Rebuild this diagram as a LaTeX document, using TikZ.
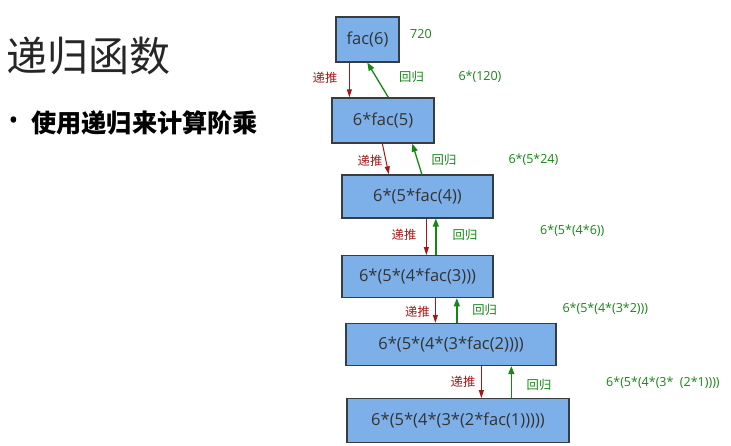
\documentclass[tikz,border=0pt]{standalone}
\usepackage{fontspec}
\setmainfont{Open Sans}
\newfontfamily\cjk{Noto Sans CJK SC}
\usetikzlibrary{arrows.meta,calc}
\definecolor{boxblue}{RGB}{125,176,232}
\definecolor{boxline}{RGB}{55,60,65}
\definecolor{dred}{RGB}{160,25,25}
\definecolor{dgreen}{RGB}{20,135,20}
\begin{document}
\begin{tikzpicture}[x=1pt,y=-1pt,
 box/.style={draw=boxline,line width=1.3pt,fill=boxblue,inner sep=0pt,font=\fontsize{16.5}{19}\selectfont,text=black!80},
 downarr/.style={draw=dred,line width=1pt,-{Triangle[length=8pt,width=5pt]}},
 uparr/.style={draw=dgreen,line width=1.3pt,-{Triangle[length=8pt,width=6pt]}},
 tuilab/.style={text=dred,font=\cjk\fontsize{12.3}{14}\selectfont,inner sep=0pt},
 huilab/.style={text=dgreen,font=\cjk\fontsize{12.3}{14}\selectfont,inner sep=0pt},
 vallab/.style={text=dgreen,font=\fontsize{12.5}{14}\selectfont,inner sep=0pt,anchor=west}]
\useasboundingbox[fill=white] (0,0) rectangle (731,446);

% title and bullet
\node[anchor=west,inner sep=0pt,text=black!85,font=\cjk\fontsize{41}{46}\selectfont] (title) at (6,56) {递归函数};
\node[anchor=center,inner sep=0pt,font=\fontsize{26}{28}\selectfont] (bul) at (13.5,123) {•};
\node[anchor=west,inner sep=0pt,font=\cjk\bfseries\fontsize{25.2}{29}\selectfont] (btext) at (31,123) {使用递归来计算阶乘};

% boxes
\node[box,minimum width=63pt,minimum height=45pt] (b1) at (367.5,39.5) {fac(6)};
\node[box,minimum width=102pt,minimum height=45pt] (b2) at (383,120.5) {6*fac(5)};
\node[box,minimum width=151pt,minimum height=43pt] (b3) at (417.5,196.5) {6*(5*fac(4))};
\node[box,minimum width=151pt,minimum height=42pt] (b4) at (417.5,276.7) {6*(5*(4*fac(3)))};
\node[box,minimum width=210pt,minimum height=42pt] (b5) at (451,344.5) {6*(5*(4*(3*fac(2))))};
\node[box,minimum width=222pt,minimum height=44pt] (b6) at (458,420.7) {6*(5*(4*(3*(2*fac(1)))))};

% arrows
\draw[downarr] ([xshift=14pt]b1.south west) -- ([xshift=18pt]b2.north west);
\draw[uparr] ([xshift=57pt]b2.north west) -- ([xshift=32pt]b1.south west);
\draw[downarr] ([xshift=51pt]b2.south west) -- ([xshift=47.5pt]b3.north west);
\draw[uparr] ([xshift=80.5pt]b3.north west) -- ([xshift=81pt]b2.south west);
\draw[downarr] ([xshift=85pt]b3.south west) -- ([xshift=85pt]b4.north west);
\draw[uparr] ([xshift=94.5pt]b4.north west) -- ([xshift=94.5pt]b3.south west);
\draw[downarr] ([xshift=94pt]b4.south west) -- ([xshift=90pt]b5.north west);
\draw[uparr] ([xshift=111.5pt]b5.north west) -- ([xshift=115.5pt]b4.south west);
\draw[downarr] ([xshift=136pt]b5.south west) -- ([xshift=135pt]b6.north west);
\draw[uparr] ([xshift=165pt]b6.north west) -- ([xshift=166pt]b5.south west);

% labels
\node[tuilab] (t1) at (325,77.5) {递推};
\node[tuilab] (t2) at (370,161) {递推};
\node[tuilab] (t3) at (404,235) {递推};
\node[tuilab] (t4) at (417.5,311.5) {递推};
\node[tuilab] (t5) at (463,382) {递推};
\node[huilab] (h1) at (411.5,77) {回归};
\node[huilab] (h2) at (444,159.5) {回归};
\node[huilab] (h3) at (465,235) {回归};
\node[huilab] (h4) at (484.7,309.5) {回归};
\node[huilab] (h5) at (539,384.5) {回归};

\node[vallab] (v0) at (410,34) {720};
\node[vallab] (v1) at (458.3,77) {6*(120)};
\node[vallab] (v2) at (508.3,159.5) {6*(5*24)};
\node[vallab] (v3) at (540,231) {6*(5*(4*6))};
\node[vallab] (v4) at (562.3,309) {6*(5*(4*(3*2)))};
\node[vallab] (v5) at (606,382.7) {6*(5*(4*(3*\ \ (2*1))))};
\end{tikzpicture}
\end{document}
